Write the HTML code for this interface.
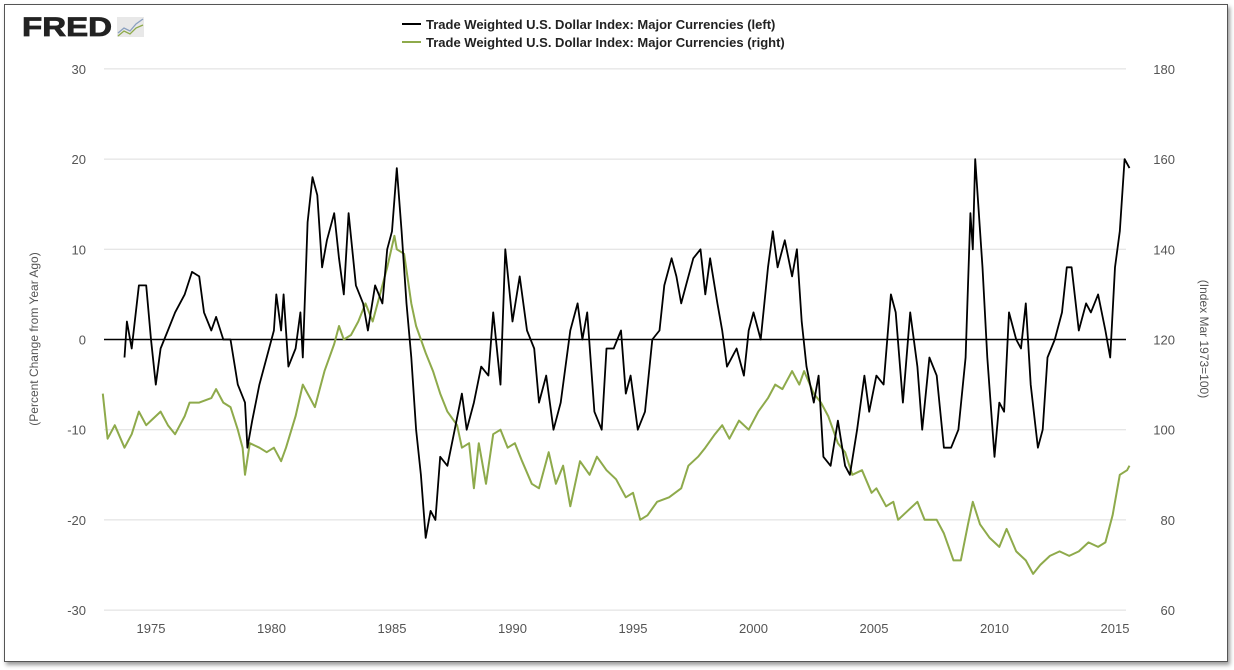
<!DOCTYPE html>
<html><head><meta charset="utf-8"><style>
html,body{margin:0;padding:0;background:#fff;width:1234px;height:670px;overflow:hidden;font-family:"Liberation Sans",sans-serif}
#frame{position:absolute;left:4px;top:4px;width:1222px;height:656px;border:1px solid #555;box-shadow:2px 3px 4px #999;background:#fff}
</style></head><body>
<div id="frame"></div>
<svg id="chart" width="1234" height="670" style="position:absolute;left:0;top:0">
<g>
<text x="22" y="36" font-size="27" font-weight="bold" fill="#222" stroke="#222" stroke-width="0.8" font-family="Liberation Sans,sans-serif" textLength="90" lengthAdjust="spacingAndGlyphs">FRED</text>
<rect x="117" y="17" width="27" height="20" fill="#e8e8e8"/>
<polyline points="118,33 124,28 130,31 136,24 143,19" fill="none" stroke="#8aa0c0" stroke-width="1.3"/>
<polyline points="118,36 124,31 130,34 136,28 143,25" fill="none" stroke="#8eaa4b" stroke-width="1.3"/>
</g>
<g font-size="13" font-weight="bold" fill="#222">
<line x1="402" y1="24" x2="421" y2="24" stroke="#000" stroke-width="2"/>
<text x="426" y="29">Trade Weighted U.S. Dollar Index: Major Currencies (left)</text>
<line x1="402" y1="42" x2="421" y2="42" stroke="#8eaa4b" stroke-width="2"/>
<text x="426" y="47">Trade Weighted U.S. Dollar Index: Major Currencies (right)</text>
</g>
<g id="grid"></g><g id="axes"></g><g id="series"></g>
<text transform="translate(38,339) rotate(-90)" text-anchor="middle" font-size="12" fill="#555">(Percent Change from Year Ago)</text>
<text transform="translate(1200,339) rotate(90)" text-anchor="middle" font-size="12" fill="#555">(Index Mar 1973=100)</text>
</svg>
<script>
const leftTicks=[30,20,10,0,-10,-20,-30];
const rightTicks=[180,160,140,120,100,80,60];
const xTicks=[1975,1980,1985,1990,1995,2000,2005,2010,2015];
const greenT=[1973.0,1973.2,1973.5,1973.9,1974.2,1974.5,1974.8,1975.0,1975.4,1975.7,1976.0,1976.4,1976.6,1977.0,1977.5,1977.7,1978.0,1978.3,1978.6,1978.8,1978.9,1979.1,1979.5,1979.8,1980.1,1980.4,1980.6,1981.0,1981.3,1981.6,1981.8,1982.2,1982.6,1982.8,1983.0,1983.3,1983.6,1983.9,1984.2,1984.5,1984.8,1985.1,1985.2,1985.5,1985.8,1986.0,1986.4,1986.7,1987.0,1987.3,1987.7,1987.9,1988.2,1988.4,1988.6,1988.9,1989.2,1989.5,1989.8,1990.1,1990.4,1990.8,1991.1,1991.5,1991.8,1992.1,1992.4,1992.8,1993.2,1993.5,1993.9,1994.3,1994.7,1995.0,1995.3,1995.6,1996.0,1996.5,1997.0,1997.3,1997.7,1998.0,1998.4,1998.7,1999.0,1999.4,1999.8,2000.2,2000.6,2000.9,2001.2,2001.6,2001.9,2002.1,2002.5,2002.8,2003.1,2003.5,2003.8,2004.1,2004.5,2004.9,2005.1,2005.5,2005.8,2006.0,2006.4,2006.8,2007.1,2007.6,2007.9,2008.3,2008.6,2008.9,2009.1,2009.4,2009.8,2010.2,2010.5,2010.9,2011.3,2011.6,2011.9,2012.3,2012.7,2013.1,2013.5,2013.9,2014.3,2014.6,2014.9,2015.2,2015.5,2015.6];
const greenV=[108,98,101,96,99,104,101,102,104,101,99,103,106,106,107,109,106,105,100,96,90,97,96,95,96,93,96,103,110,107,105,113,119,123,120,121,124,128,124,130,136,143,140,139,128,123,117,113,108,104,101,96,97,87,97,88,99,100,96,97,93,88,87,95,88,92,83,93,90,94,91,89,85,86,80,81,84,85,87,92,94,96,99,101,98,102,100,104,107,110,109,113,110,113,108,106,103,97,95,90,91,86,87,83,84,80,82,84,80,80,77,71,71,79,84,79,76,74,78,73,71,68,70,72,73,72,73,75,74,75,81,90,91,92];
const blackT=[1973.9,1974.0,1974.2,1974.5,1974.8,1975.0,1975.2,1975.4,1975.7,1976.0,1976.4,1976.7,1977.0,1977.2,1977.5,1977.7,1978.0,1978.3,1978.6,1978.9,1979.0,1979.2,1979.5,1979.9,1980.1,1980.2,1980.4,1980.5,1980.7,1981.0,1981.2,1981.3,1981.5,1981.7,1981.9,1982.1,1982.3,1982.6,1982.8,1983.0,1983.2,1983.5,1983.8,1984.0,1984.3,1984.6,1984.8,1985.0,1985.2,1985.4,1985.6,1985.8,1986.0,1986.2,1986.4,1986.6,1986.8,1987.0,1987.3,1987.6,1987.9,1988.1,1988.4,1988.7,1989.0,1989.2,1989.5,1989.7,1990.0,1990.3,1990.6,1990.9,1991.1,1991.4,1991.7,1992.0,1992.4,1992.7,1992.9,1993.1,1993.4,1993.7,1993.9,1994.2,1994.5,1994.7,1994.9,1995.2,1995.5,1995.8,1996.1,1996.3,1996.6,1996.8,1997.0,1997.2,1997.5,1997.8,1998.0,1998.2,1998.5,1998.7,1998.9,1999.3,1999.6,1999.8,2000.0,2000.3,2000.6,2000.8,2001.0,2001.3,2001.6,2001.8,2002.0,2002.2,2002.5,2002.7,2002.9,2003.2,2003.5,2003.8,2004.0,2004.3,2004.6,2004.8,2005.1,2005.4,2005.7,2005.9,2006.2,2006.5,2006.8,2007.0,2007.3,2007.6,2007.9,2008.2,2008.5,2008.8,2009.0,2009.1,2009.2,2009.5,2009.7,2010.0,2010.2,2010.4,2010.6,2010.9,2011.1,2011.3,2011.5,2011.8,2012.0,2012.2,2012.5,2012.8,2013.0,2013.2,2013.5,2013.8,2014.0,2014.3,2014.6,2014.8,2015.0,2015.2,2015.4,2015.6];
const blackV=[-2,2,-1,6,6,0,-5,-1,1,3,5,7.5,7,3,1,2.5,0,0,-5,-7,-12,-9,-5,-1,1,5,1,5,-3,-1,3,-2,13,18,16,8,11,14,9,5,14,6,4,1,6,4,10,12,19,12,4,-2,-10,-15,-22,-19,-20,-13,-14,-10,-6,-10,-7,-3,-4,3,-5,10,2,7,1,-1,-7,-4,-10,-7,1,4,0,3,-8,-10,-1,-1,1,-6,-4,-10,-8,0,1,6,9,7,4,6,9,10,5,9,4,1,-3,-1,-4,1,3,0,8,12,8,11,7,10,2,-3,-7,-4,-13,-14,-9,-14,-15,-10,-4,-8,-4,-5,5,3,-7,3,-3,-10,-2,-4,-12,-12,-10,-2,14,10,20,8,-2,-13,-7,-8,3,0,-1,4,-5,-12,-10,-2,0,3,8,8,1,4,3,5,1,-2,8,12,20,19];

const NS='http://www.w3.org/2000/svg';
const X0=104,X1=1126;
const x=t=>151+(t-1975)*24.1;
const yL=v=>339.5-v*9.02;
const yR=v=>69+(180-v)*541/120;
function mk(tag,attrs,parent){const e=document.createElementNS(NS,tag);for(const k in attrs)e.setAttribute(k,attrs[k]);parent.appendChild(e);return e;}
const grid=document.getElementById('grid'),axes=document.getElementById('axes'),ser=document.getElementById('series');
leftTicks.forEach(v=>{
  const l=mk('line',{x1:X0,x2:X1,y1:yL(v),y2:yL(v),stroke:'#ddd','stroke-width':1},grid);
  
  
  const t=mk('text',{x:86,y:yL(v)+5,'text-anchor':'end','font-size':13,fill:'#555'},axes);
  t.textContent=v;
  
  
});
rightTicks.forEach(v=>{
  const t=mk('text',{x:1175,y:yR(v)+5,'text-anchor':'end','font-size':13,fill:'#555'},axes);
  t.textContent=v;
  
  
});
xTicks.forEach(v=>{
  const t=mk('text',{x:x(v),y:633,'text-anchor':'middle','font-size':13,fill:'#555'},axes);
  t.textContent=v;
  
  
});
const zero=mk('line',{x1:X0,x2:X1,y1:yL(0),y2:yL(0),stroke:'#000','stroke-width':1.5},grid);


const gp=mk('polyline',{points:greenT.map((t,i)=>x(t).toFixed(1)+','+yR(greenV[i]).toFixed(1)).join(' '),fill:'none',stroke:'#8eaa4b','stroke-width':2,'stroke-linejoin':'round'},ser);


const bp=mk('polyline',{points:blackT.map((t,i)=>x(t).toFixed(1)+','+yL(blackV[i]).toFixed(1)).join(' '),fill:'none',stroke:'#000','stroke-width':1.8,'stroke-linejoin':'round'},ser);


</script>
</body></html>
